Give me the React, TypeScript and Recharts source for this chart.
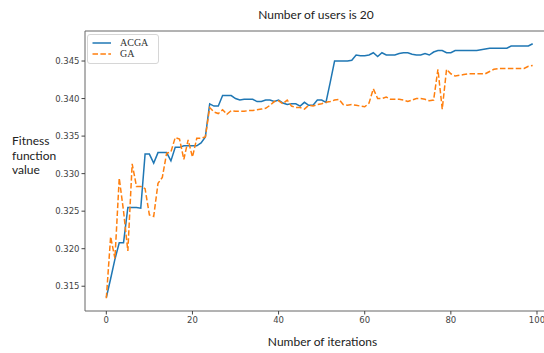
import { LineChart, Line, XAxis, YAxis, ReferenceArea } from 'recharts';

const acga = [
  0.3135, 0.316, 0.3186, 0.3208, 0.3208, 0.3255, 0.3255, 0.3255, 0.3254, 0.3326,
  0.3326, 0.3314, 0.3328, 0.3328, 0.3328, 0.3317, 0.3335, 0.3335, 0.3337, 0.3337,
  0.3337, 0.3337, 0.3341, 0.3349, 0.3393, 0.339, 0.339, 0.3404, 0.3404, 0.3404,
  0.34, 0.3398, 0.3399, 0.3399, 0.3399, 0.3396, 0.3396, 0.3398, 0.3398, 0.3396,
  0.3398, 0.3394, 0.3392, 0.3393, 0.3393, 0.339, 0.3395, 0.3391, 0.3391, 0.3398,
  0.3398, 0.3395, 0.3422, 0.345, 0.345, 0.345, 0.345, 0.3451, 0.3458, 0.3457,
  0.3457, 0.3458, 0.3461, 0.3456, 0.3461, 0.3458, 0.3458, 0.3458, 0.346, 0.3461,
  0.3461, 0.3459, 0.3458, 0.3458, 0.346, 0.3458, 0.3462, 0.3464, 0.3464, 0.3461,
  0.3461, 0.3464, 0.3464, 0.3464, 0.3464, 0.3464, 0.3464, 0.3465, 0.3466, 0.3467,
  0.3467, 0.3467, 0.3467, 0.3467, 0.347, 0.347, 0.347, 0.347, 0.347, 0.3473,
];

const ga = [
  0.3134, 0.3216, 0.3187, 0.3294, 0.325, 0.3197, 0.3313, 0.3283, 0.3283, 0.328,
  0.3245, 0.3243, 0.3287, 0.3295, 0.3327, 0.3329, 0.3348, 0.3346, 0.3319, 0.3345,
  0.3322, 0.3347, 0.3347, 0.3349, 0.3388, 0.3382, 0.338, 0.3385, 0.3379, 0.3384,
  0.3383, 0.3383, 0.3383, 0.3384, 0.3384, 0.3385, 0.3386, 0.3387, 0.3391, 0.3396,
  0.3397, 0.3393, 0.3398, 0.339, 0.3388, 0.3388, 0.3386, 0.3391, 0.339, 0.3392,
  0.3393, 0.3395, 0.3396, 0.3398, 0.3399, 0.3392, 0.3391, 0.3392, 0.3391, 0.339,
  0.3389, 0.3394, 0.3413, 0.34, 0.34, 0.3402, 0.3399, 0.3399, 0.3399, 0.3398,
  0.3396, 0.3398, 0.34, 0.34, 0.3399, 0.3397, 0.3398, 0.3439, 0.3386, 0.3439,
  0.3433, 0.343, 0.3431, 0.3432, 0.3433, 0.3433, 0.3433, 0.3433, 0.3433, 0.3436,
  0.3439, 0.344, 0.344, 0.344, 0.344, 0.344, 0.344, 0.344, 0.3443, 0.3444,
];

const xTicks = [0, 20, 40, 60, 80, 100];
const yTicks = [0.315, 0.32, 0.325, 0.33, 0.335, 0.34, 0.345];

const X_DOMAIN: [number, number] = [-4.95, 103.95];
const Y_DOMAIN: [number, number] = [0.3117, 0.349];

const data = acga.map((v, i) => ({ iter: i, ACGA: v, GA: ga[i] }));

const BLUE = '#1f77b4';
const ORANGE = '#ff7f0e';
const labelFont = 'Lato, "Open Sans", sans-serif';
const tickStyle = { fontSize: 8.5, fill: '#444', fontFamily: '"DejaVu Sans", sans-serif' };

export default function App() {
  return (
    <div style={{ position: 'absolute', left: 0, top: 0, width: 544, height: 353, overflow: 'hidden', background: '#fff' }}>
      <LineChart width={570} height={353} data={data} margin={{ top: 31, right: 16, bottom: 0, left: 0 }}>
        <XAxis
          dataKey="iter"
          type="number"
          domain={X_DOMAIN}
          ticks={xTicks}
          allowDataOverflow
          axisLine={false}
          tickLine={{ stroke: '#444' }}
          tickSize={3.5}
          tick={tickStyle}
          height={42}
        />
        <YAxis
          type="number"
          domain={Y_DOMAIN}
          ticks={yTicks}
          allowDataOverflow
          axisLine={false}
          tickLine={{ stroke: '#444' }}
          tickSize={3.5}
          tick={tickStyle}
          tickFormatter={(v: number) => v.toFixed(3)}
          width={85}
        />
        <ReferenceArea
          x1={X_DOMAIN[0]}
          x2={X_DOMAIN[1]}
          y1={Y_DOMAIN[0]}
          y2={Y_DOMAIN[1]}
          fill="none"
          stroke="#666"
          strokeWidth={1}
        />
        <Line type="linear" dataKey="ACGA" stroke={BLUE} strokeWidth={1.5} dot={false} isAnimationActive={false} />
        <Line
          type="linear"
          dataKey="GA"
          stroke={ORANGE}
          strokeWidth={1.5}
          strokeDasharray="5.5 2.4"
          dot={false}
          isAnimationActive={false}
        />
      </LineChart>

      <div style={{ position: 'absolute', left: 0, width: 632, top: 7, textAlign: 'center', fontFamily: labelFont, fontSize: 12, lineHeight: '16px', color: '#222' }}>
        Number of users is 20
      </div>
      <div style={{ position: 'absolute', left: 0, width: 645, top: 334, textAlign: 'center', fontFamily: labelFont, fontSize: 12, lineHeight: '16px', color: '#222' }}>
        Number of iterations
      </div>
      <div style={{ position: 'absolute', left: 12, top: 134, fontFamily: labelFont, fontSize: 12, lineHeight: '14.5px', color: '#222' }}>
        Fitness
        <br />
        function
        <br />
        value
      </div>

      <div
        style={{
          position: 'absolute',
          left: 87,
          top: 34,
          width: 70,
          height: 28,
          border: '1px solid #d6d6d6',
          borderRadius: 3,
          background: 'rgba(255,255,255,0.8)',
          fontFamily: '"Liberation Serif", serif',
          fontSize: 10,
          color: '#333',
        }}
      >
        {[
          { name: 'ACGA', color: BLUE, dash: undefined },
          { name: 'GA', color: ORANGE, dash: '5.5 2.4' },
        ].map((s, k) => (
          <div key={s.name} style={{ position: 'absolute', left: 0, top: 2 + k * 10.7, height: 12, display: 'flex', alignItems: 'center' }}>
            <svg width={32} height={12}>
              <line x1={4.5} x2={23} y1={6} y2={6} stroke={s.color} strokeWidth={1.5} strokeDasharray={s.dash} />
            </svg>
            <span style={{ lineHeight: '12px' }}>{s.name}</span>
          </div>
        ))}
      </div>
    </div>
  );
}
